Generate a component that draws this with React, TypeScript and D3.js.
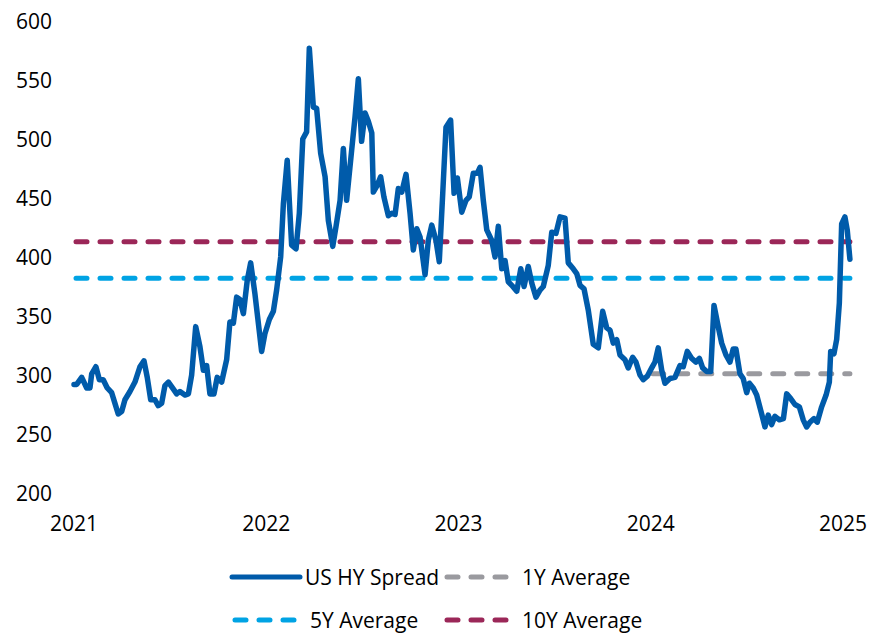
import React from "react";
import * as d3 from "d3";

// Time expressed as fractional year
const dates: number[] = [
  2021.000, 2021.014, 2021.040, 2021.066, 2021.083, 2021.092, 2021.114, 2021.132, 2021.152, 2021.173,
  2021.196, 2021.213, 2021.230, 2021.248, 2021.265, 2021.291, 2021.317, 2021.343, 2021.364, 2021.381,
  2021.399, 2021.421, 2021.438, 2021.456, 2021.473, 2021.491, 2021.517, 2021.534, 2021.551, 2021.577,
  2021.595, 2021.612, 2021.633, 2021.655, 2021.673, 2021.690, 2021.707, 2021.728, 2021.745, 2021.768,
  2021.794, 2021.811, 2021.829, 2021.846, 2021.863, 2021.881, 2021.901, 2021.919, 2021.941, 2021.976,
  2021.993, 2022.016, 2022.037, 2022.054, 2022.075, 2022.089, 2022.109, 2022.132, 2022.155, 2022.172,
  2022.190, 2022.210, 2022.224, 2022.245, 2022.262, 2022.283, 2022.306, 2022.323, 2022.346, 2022.363,
  2022.384, 2022.401, 2022.418, 2022.444, 2022.462, 2022.479, 2022.496, 2022.514, 2022.531, 2022.549,
  2022.557, 2022.575, 2022.595, 2022.612, 2022.635, 2022.653, 2022.670, 2022.687, 2022.705, 2022.727,
  2022.748, 2022.765, 2022.783, 2022.800, 2022.826, 2022.843, 2022.861, 2022.883, 2022.900, 2022.918,
  2022.935, 2022.959, 2022.977, 2022.994, 2023.017, 2023.039, 2023.056, 2023.077, 2023.098, 2023.112,
  2023.129, 2023.147, 2023.173, 2023.190, 2023.207, 2023.225, 2023.242, 2023.259, 2023.277, 2023.303,
  2023.324, 2023.341, 2023.363, 2023.381, 2023.403, 2023.424, 2023.441, 2023.467, 2023.485, 2023.507,
  2023.528, 2023.554, 2023.571, 2023.597, 2023.615, 2023.632, 2023.653, 2023.675, 2023.701, 2023.727,
  2023.750, 2023.771, 2023.788, 2023.805, 2023.823, 2023.840, 2023.866, 2023.883, 2023.906, 2023.923,
  2023.944, 2023.961, 2023.982, 2024.005, 2024.022, 2024.039, 2024.057, 2024.074, 2024.100, 2024.126,
  2024.152, 2024.169, 2024.190, 2024.213, 2024.235, 2024.253, 2024.270, 2024.291, 2024.312, 2024.329,
  2024.351, 2024.369, 2024.391, 2024.412, 2024.429, 2024.443, 2024.464, 2024.481, 2024.499, 2024.513,
  2024.533, 2024.551, 2024.577, 2024.594, 2024.611, 2024.629, 2024.646, 2024.669, 2024.690, 2024.707,
  2024.728, 2024.750, 2024.773, 2024.793, 2024.811, 2024.828, 2024.849, 2024.866, 2024.889, 2024.912,
  2024.929, 2024.936, 2024.953, 2024.967, 2024.981, 2024.993, 2025.010, 2025.022, 2025.036,
];

const spread: number[] = [
  292, 292, 298, 289, 289, 301, 307, 296, 296, 289,
  285, 276, 267, 269, 279, 286, 294, 307, 312, 298,
  279, 279, 274, 276, 291, 294, 288, 284, 286, 283,
  284, 300, 341, 324, 304, 308, 284, 284, 298, 294,
  313, 345, 344, 366, 364, 352, 380, 395, 369, 320,
  335, 347, 354, 372, 400, 445, 482, 410, 407, 437,
  500, 506, 577, 527, 526, 488, 468, 431, 409, 426,
  448, 492, 448, 490, 519, 551, 498, 522, 515, 505,
  455, 460, 468, 451, 435, 437, 436, 458, 455, 470,
  437, 406, 424, 417, 385, 414, 427, 414, 396, 454,
  510, 516, 454, 467, 438, 448, 451, 471, 471, 476,
  448, 423, 414, 400, 426, 390, 397, 379, 376, 371,
  390, 375, 392, 378, 366, 372, 375, 393, 421, 420,
  434, 433, 395, 390, 386, 376, 373, 355, 326, 323,
  354, 340, 338, 327, 330, 317, 313, 306, 315, 311,
  300, 296, 299, 306, 311, 323, 304, 293, 297, 298,
  308, 307, 320, 314, 311, 314, 306, 303, 303, 359,
  341, 327, 317, 311, 322, 322, 301, 297, 285, 293,
  289, 283, 267, 256, 266, 258, 265, 262, 263, 284,
  280, 275, 273, 262, 256, 260, 263, 260, 273, 283,
  294, 320, 318, 330, 361, 428, 434, 423, 398,
];

const avg1Y = { value: 301, start: 2024.0, end: 2025.036 };
const avg5Y = { value: 382, start: 2021.0, end: 2025.036 };
const avg10Y = { value: 413, start: 2021.0, end: 2025.036 };

const yTicks: number[] = [200, 250, 300, 350, 400, 450, 500, 550, 600];
const xTicks: number[] = [2021, 2022, 2023, 2024, 2025];

const seriesNames = ["US HY Spread", "1Y Average", "5Y Average", "10Y Average"];
const COLORS = {
  spread: "#005BAA",
  y1: "#9A9A9F",
  y5: "#00A3E4",
  y10: "#9B2758",
};

const FONT = "'Open Sans', sans-serif";

export default function App() {
  const width = 871;
  const height = 634;
  const x = d3.scaleLinear().domain([2021, 2025]).range([74, 843]);
  const y = d3.scaleLinear().domain([200, 600]).range([493, 21]);

  const pts = dates.map((d, i) => [d, spread[i]] as [number, number]);
  const line = d3
    .line<[number, number]>()
    .x((d) => x(d[0]))
    .y((d) => y(d[1]));

  const dashProps = { strokeWidth: 5, strokeDasharray: "11 13", strokeLinecap: "round" as const, fill: "none" };

  const avgLine = (a: { value: number; start: number; end: number }, color: string) => (
    <line x1={x(a.start) + 2} x2={x(a.end)} y1={y(a.value)} y2={y(a.value)} stroke={color} {...dashProps} />
  );

  const legendItems = [
    { name: seriesNames[0], color: COLORS.spread, dashed: false, lx: 232, ly: 577 },
    { name: seriesNames[1], color: COLORS.y1, dashed: true, lx: 444, ly: 577 },
    { name: seriesNames[2], color: COLORS.y5, dashed: true, lx: 232, ly: 620 },
    { name: seriesNames[3], color: COLORS.y10, dashed: true, lx: 444, ly: 620 },
  ];

  return (
    <svg
      width={width}
      height={height}
      style={{ position: "absolute", left: 0, top: 0, background: "#fff" }}
      fontFamily={FONT}
    >
      {yTicks.map((t) => (
        <text key={t} x={52} y={y(t)} textAnchor="end" dominantBaseline="central" fontSize={21} fill="#000">
          {t}
        </text>
      ))}
      {xTicks.map((t) => (
        <text key={t} x={x(t)} y={523} textAnchor="middle" dominantBaseline="central" fontSize={21} fill="#000">
          {t}
        </text>
      ))}
      {avgLine(avg5Y, COLORS.y5)}
      {avgLine(avg10Y, COLORS.y10)}
      {avgLine(avg1Y, COLORS.y1)}
      <path d={line(pts) || ""} fill="none" stroke={COLORS.spread} strokeWidth={5.5} strokeLinejoin="round" strokeLinecap="round" />
      {legendItems.map((it) => (
        <g key={it.name}>
          {it.dashed ? (
            <line x1={it.lx + 3} x2={it.lx + 66} y1={it.ly} y2={it.ly} stroke={it.color} strokeWidth={5} strokeDasharray="11 13" strokeLinecap="round" />
          ) : (
            <line x1={it.lx} x2={it.lx + 68} y1={it.ly} y2={it.ly} stroke={it.color} strokeWidth={5} strokeLinecap="round" />
          )}
          <text x={it.lx + (it.dashed ? 78 : 73)} y={it.ly} dominantBaseline="central" fontSize={21} fill="#000">
            {it.name}
          </text>
        </g>
      ))}
    </svg>
  );
}
